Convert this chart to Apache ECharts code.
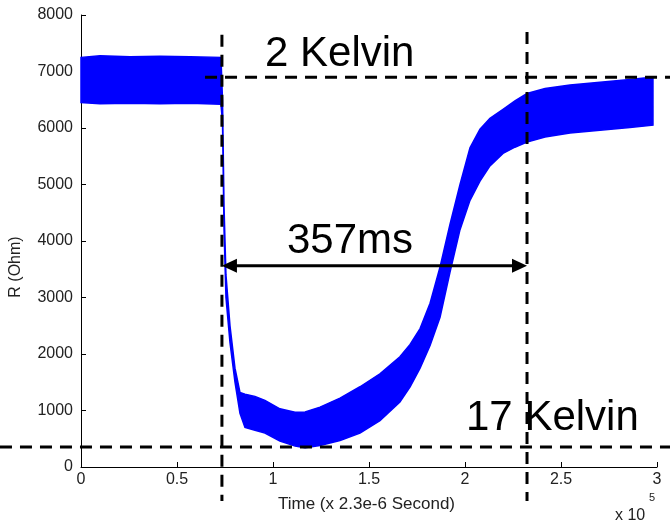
<!DOCTYPE html>
<html>
<head>
<meta charset="utf-8">
<script src="https://cdn.jsdelivr.net/npm/echarts@6/dist/echarts.min.js"></script>
<style>
html, body { margin: 0; padding: 0; background: #fff; }
#chart { width: 670px; height: 526px; }
</style>
</head>
<body>
<div id="chart"></div>
<script>
// time in units of 1e5 samples (x 2.3e-6 s)
var timeData = [0, 0.099, 0.255, 0.411, 0.568, 0.729, 0.737, 0.745, 0.755, 0.776, 0.802, 0.828, 0.854, 0.906, 0.958,
    1.036, 1.115, 1.167, 1.245, 1.349, 1.453, 1.557, 1.661, 1.714, 1.766, 1.818, 1.870, 1.922, 1.974,
    2.026, 2.078, 2.130, 2.198, 2.260, 2.323, 2.417, 2.547, 2.703, 2.859, 2.979];
// upper and lower edge of the noisy resistance band (Ohm)
var upperData = [7250, 7280, 7260, 7270, 7260, 7250, 6500, 4600, 3400, 2500, 1750, 1320, 1290, 1250, 1180,
    1030, 970, 975, 1060, 1220, 1420, 1650, 1950, 2170, 2450, 2900, 3540, 4300, 5000,
    5650, 5980, 6170, 6330, 6480, 6610, 6700, 6760, 6810, 6860, 6900];
var lowerData = [6450, 6430, 6440, 6430, 6440, 6420, 6100, 4200, 3000, 2200, 1500, 950, 700, 650, 600,
    460, 370, 340, 380, 470, 600, 820, 1150, 1420, 1750, 2150, 2650, 3450, 4200,
    4720, 5060, 5330, 5550, 5660, 5750, 5840, 5910, 5960, 6010, 6050];

// dashed guide lines [x1, y1, x2, y2] and the 357 ms arrow
var guideLines = [
    [0.734, 7650, 0.734, -600],
    [2.323, 7700, 2.323, -600],
    [0.646, 6900, 3.068, 6900],
    [-0.422, 354, 3.068, 354]
];
var arrowSpan = [0.734, 2.323, 3560];

var bandPoints = [];
for (var i = 0; i < timeData.length; i++) bandPoints.push([timeData[i], upperData[i]]);
for (var j = timeData.length - 1; j >= 0; j--) bandPoints.push([timeData[j], lowerData[j]]);

var myChart = echarts.init(document.getElementById('chart'));

var labelFont = "'Liberation Sans', Arial, sans-serif";

var option = {
    backgroundColor: '#fff',
    animation: false,
    grid: { left: 81, right: 13, top: 15, bottom: 59 },
    xAxis: {
        type: 'value',
        min: 0,
        max: 3,
        interval: 0.5,
        axisLine: { show: true, lineStyle: { color: '#000', width: 1 } },
        axisTick: { show: true, inside: true, length: 5, lineStyle: { color: '#000' } },
        splitLine: { show: false },
        axisLabel: { color: '#222', fontSize: 16, fontFamily: labelFont, margin: 5,
            formatter: function (v) { return String(v); } }
    },
    yAxis: {
        type: 'value',
        min: 0,
        max: 8000,
        interval: 1000,
        axisLine: { show: true, lineStyle: { color: '#000', width: 1 } },
        axisTick: { show: true, inside: true, length: 5, lineStyle: { color: '#000' } },
        splitLine: { show: false },
        axisLabel: { color: '#222', fontSize: 16, fontFamily: labelFont, margin: 8,
            formatter: function (v) { return String(v); } }
    },
    series: [{
        type: 'custom',
        data: [0],
        z: 2,
        renderItem: function (params, api) {
            var pts = bandPoints.map(function (p) { return api.coord(p); });
            return {
                type: 'polygon',
                shape: { points: pts },
                style: { fill: '#0000ff', stroke: '#0000ff', lineWidth: 1.5 }
            };
        }
    }, {
        type: 'custom',
        data: [0],
        z: 5,
        clip: false,
        renderItem: function (params, api) {
            var children = guideLines.map(function (l) {
                var a = api.coord([l[0], l[1]]), b = api.coord([l[2], l[3]]);
                return {
                    type: 'line',
                    shape: { x1: a[0], y1: a[1], x2: b[0], y2: b[1] },
                    style: { stroke: '#000', lineWidth: 3, lineDash: [12, 8] }
                };
            });
            var p1 = api.coord([arrowSpan[0], arrowSpan[2]]);
            var p2 = api.coord([arrowSpan[1], arrowSpan[2]]);
            var hl = 15, hw = 7;
            children.push({
                type: 'line',
                shape: { x1: p1[0] + hl - 2, y1: p1[1], x2: p2[0] - hl + 2, y2: p2[1] },
                style: { stroke: '#000', lineWidth: 3 }
            });
            children.push({
                type: 'polygon',
                shape: { points: [[p1[0], p1[1]], [p1[0] + hl, p1[1] - hw], [p1[0] + hl, p1[1] + hw]] },
                style: { fill: '#000' }
            });
            children.push({
                type: 'polygon',
                shape: { points: [[p2[0], p2[1]], [p2[0] - hl, p2[1] - hw], [p2[0] - hl, p2[1] + hw]] },
                style: { fill: '#000' }
            });
            return { type: 'group', children: children };
        }
    }],
    graphic: [
        { type: 'text', left: 265, top: 33, z: 10,
          style: { text: '2 Kelvin', fontSize: 42, fontFamily: labelFont, fill: '#000' } },
        { type: 'text', left: 287, top: 220, z: 10,
          style: { text: '357ms', fontSize: 42, fontFamily: labelFont, fill: '#000' } },
        { type: 'text', left: 466, top: 397, z: 10,
          style: { text: '17 Kelvin', fontSize: 42, fontFamily: labelFont, fill: '#000' } },
        { type: 'text', left: 278, top: 496, z: 10,
          style: { text: 'Time (x 2.3e-6 Second)', fontSize: 17, fontFamily: labelFont, fill: '#222' } },
        { type: 'text', left: 615, top: 508, z: 10,
          style: { text: 'x 10', fontSize: 16, fontFamily: labelFont, fill: '#222' } },
        { type: 'text', left: 649, top: 492, z: 10,
          style: { text: '5', fontSize: 11, fontFamily: labelFont, fill: '#222' } },
        { type: 'text', x: 8, y: 267, rotation: Math.PI / 2, z: 10,
          style: { text: 'R (Ohm)', fontSize: 16, fontFamily: labelFont, fill: '#222', align: 'center', verticalAlign: 'top' } }
    ]
};

myChart.setOption(option);
</script>
</body>
</html>
